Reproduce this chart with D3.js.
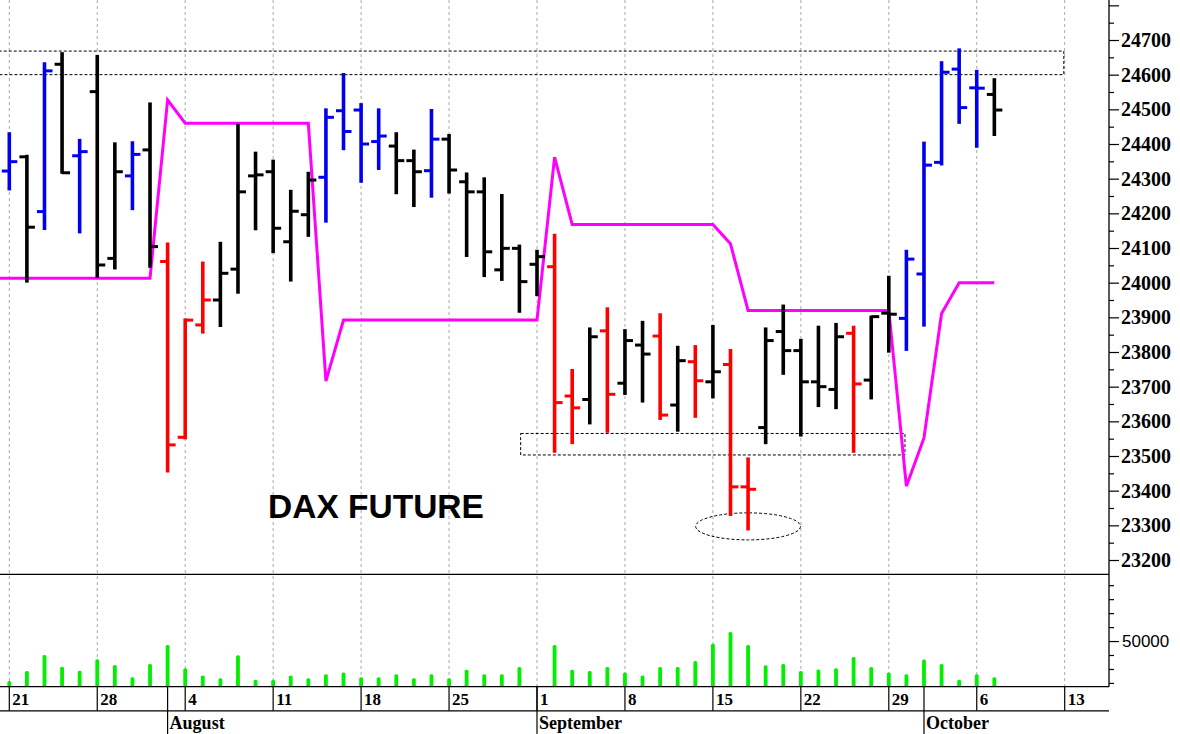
<!DOCTYPE html>
<html><head><meta charset="utf-8">
<script src="https://cdn.jsdelivr.net/npm/d3@7"></script>
<style>html,body{margin:0;padding:0;background:#fff;overflow:hidden}svg{display:block}</style>
</head><body>
<svg id="c" width="1180" height="734"></svg>
<script>
// ---- DATA ----
const dates = ["2025-07-21","2025-07-22","2025-07-23","2025-07-24","2025-07-25",
"2025-07-28","2025-07-29","2025-07-30","2025-07-31","2025-08-01",
"2025-08-04","2025-08-05","2025-08-06","2025-08-07","2025-08-08",
"2025-08-11","2025-08-12","2025-08-13","2025-08-14","2025-08-15",
"2025-08-18","2025-08-19","2025-08-20","2025-08-21","2025-08-22",
"2025-08-25","2025-08-26","2025-08-27","2025-08-28","2025-08-29",
"2025-09-01","2025-09-02","2025-09-03","2025-09-04","2025-09-05",
"2025-09-08","2025-09-09","2025-09-10","2025-09-11","2025-09-12",
"2025-09-15","2025-09-16","2025-09-17","2025-09-18","2025-09-19",
"2025-09-22","2025-09-23","2025-09-24","2025-09-25","2025-09-26",
"2025-09-29","2025-09-30","2025-10-01","2025-10-02","2025-10-03",
"2025-10-06","2025-10-07"];
const open  = [24322,24363,24205,24630,24366, 24551,24070,24308,24383,24061,
23554,23878,23950,24039,24308, 24320,24118,24196,24304,24496,
24498,24407,24394,24352,24323, 24414,24291,24262,24037,24099,
24053,24046,23673,23663,23861, 23710,23820,23846,23647,23772,
23714,23764,23411,23582,23859, 23804,23714,23692,23854,23719,
23912,23897,24025,24347,24616, 24562,24543];
const high  = [24431,24366,24633,24662,24412, 24654,24402,24405,24517,24113,
23894,24058,24115,24455,24375, 24352,24265,24317,24500,24602,
24515,24500,24431,24381,24498, 24426,24315,24301,24253,24107,
24092,24138,23748,23868,23926, 23863,23887,23909,23815,23817,
23875,23806,23493,23868,23934, 23835,23873,23881,23873,23902,
24017,24092,24404,24636,24673, 24611,24587];
const low   = [24269,24003,24155,24317,24145, 24017,24041,24212,24046,23455,
23551,23856,23875,23971,24154, 24088,24006,24135,24176,24385,
24291,24328,24258,24221,24248, 24260,24077,24019,24008,23916,
23964,23512,23537,23594,23570, 23679,23657,23607,23573,23613,
23669,23330,23288,23537,23737, 23559,23644,23638,23512,23666,
23801,23806,23876,24341,24461, 24392,24426];
const close = [24349,24160,24611,24317,24378, 24051,24320,24370,24104,23532,
23892,23950,24027,24262,24311, 24157,24206,24296,24477,24436,
24400,24423,24352,24320,24414, 24325,24262,24089,24099,24003,
24075,23654,23639,23844,23678, 23833,23794,23618,23775,23717,
23743,23411,23404,23833,23804, 23714,23700,23844,23708,23902,
23909,24068,24339,24607,24505, 24561,24498];
const barColor = ["b","k","b","k","b", "k","k","b","k","r",
"r","r","k","k","k", "k","k","k","b","b",
"b","b","k","k","b", "k","k","k","k","k",
"k","r","r","k","r", "k","k","r","k","r",
"k","r","r","k","k", "k","k","k","r","k",
"k","b","b","b","b", "b","k"];
const volume = [21300,28500,40000,31600,28700, 36900,32800,24100,33500,47100,
30600,25300,23400,39800,22200, 22200,25300,23400,26300,27500,
24100,24100,26300,23400,26300, 23400,29400,26300,26300,31400,
18000,47100,29400,28500,31400, 27500,25300,31400,31400,35700,
48100,56500,47100,32600,33500, 28500,29700,30600,38600,31400,
27500,26300,36700,33500,22200, 26300,24100];
const pivot = [24013,24013,24013,24013,24013, 24013,24013,24013,24013,24527,
24460,24460,24460,24460,24460, 24460,24460,24460,23716,23892,
23892,23892,23892,23892,23892, 23892,23892,23892,23892,23892,
23892,24362,24168,24168,24168, 24168,24168,24168,24168,24168,
24168,24112,23920,23920,23920, 23920,23920,23920,23920,23920,
23920,23413,23552,23911,24000, 24000,24000];
const weekLabels = ["21","28","4","11","18","25","1","8","15","22","29","6","13"];
const weekIndex  = [0,5,10,15,20,25,30,35,40,45,50,55,60];
const monthLabels = ["August","September","October"];
const monthIndex  = [9,30,52];
const priceTicks = d3.range(23200, 24801, 50);
const priceLabels = d3.range(23200, 24701, 100);
const volTicks = d3.range(20000, 90001, 10000);
const volLabels = [50000];
// annotation zones: [low, high, startIndex, endIndex]
const zoneLow   = [24600, 23503];
const zoneHigh  = [24668, 23565];
const zoneStart = [-0.6, 29.07];
const zoneEnd   = [59.95, 50.92];
// ellipse: center index, center price, half-width (days), half-height (points)
const ellipseC = [42, 23297, 2.98, 39];
const title = "DAX FUTURE";

// ---- SCALES ----
const W = 1180, H = 734;
const axisX = 1109;
const x  = d3.scaleLinear().domain([0, 60]).range([9.3, 1064.7]);
const yP = d3.scaleLinear().domain([23200, 24700]).range([560, 40]);
const yV = d3.scaleLinear().domain([17300, 97800]).range([686.7, 574.3]);
const colors = {b:"#0000ee", k:"#000000", r:"#ff0000"};

const svg = d3.select("#c");
const defs = svg.append("defs");
defs.append("clipPath").attr("id","pclip").append("rect").attr("x",0).attr("y",0).attr("width",axisX).attr("height",574);
defs.append("clipPath").attr("id","vclip").append("rect").attr("x",0).attr("y",574).attr("width",axisX).attr("height",112.7);

// grid lines
svg.append("g").selectAll("line").data(weekIndex).join("line")
  .attr("x1", d=>x(d)).attr("x2", d=>x(d)).attr("y1",0).attr("y2",686.5)
  .attr("stroke","#a8a8a8").attr("stroke-width",1).attr("stroke-dasharray","3,3");

// price panel
const pg = svg.append("g").attr("clip-path","url(#pclip)");

// zones
pg.append("g").selectAll("rect").data(zoneLow).join("rect")
  .attr("x",(d,i)=>x(zoneStart[i])).attr("width",(d,i)=>x(zoneEnd[i])-x(zoneStart[i]))
  .attr("y",(d,i)=>yP(zoneHigh[i])).attr("height",(d,i)=>yP(zoneLow[i])-yP(zoneHigh[i]))
  .attr("fill","none").attr("stroke","#000").attr("stroke-width",1).attr("stroke-dasharray","3,2");

// ellipse
pg.append("ellipse")
  .attr("cx", x(ellipseC[0])).attr("cy", yP(ellipseC[1]))
  .attr("rx", x(ellipseC[2]) - x(0)).attr("ry", yP(23200) - yP(23200 + ellipseC[3]))
  .attr("fill","none").attr("stroke","#000").attr("stroke-width",1).attr("stroke-dasharray","3,2");

// pivot line
const pts = pivot.map((v,i)=>[x(i), yP(v)]);
pts.unshift([0, yP(pivot[0])]);
pg.append("path").attr("d", d3.line()(pts))
  .attr("fill","none").attr("stroke","#ff00ff").attr("stroke-width",3).attr("stroke-linejoin","miter");

// OHLC bars
const bars = pg.append("g").selectAll("g").data(dates).join("g")
  .attr("stroke",(d,i)=>colors[barColor[i]]);
bars.append("line").attr("x1",(d,i)=>x(i)).attr("x2",(d,i)=>x(i))
  .attr("y1",(d,i)=>yP(high[i])-1).attr("y2",(d,i)=>yP(low[i])+1).attr("stroke-width",3.6);
bars.append("line").attr("x1",(d,i)=>x(i)-7.5).attr("x2",(d,i)=>x(i))
  .attr("y1",(d,i)=>yP(open[i])).attr("y2",(d,i)=>yP(open[i])).attr("stroke-width",3);
bars.append("line").attr("x1",(d,i)=>x(i)).attr("x2",(d,i)=>x(i)+8)
  .attr("y1",(d,i)=>yP(close[i])).attr("y2",(d,i)=>yP(close[i])).attr("stroke-width",3);

// title
svg.append("text").attr("x",268).attr("y",518).text(title)
  .attr("font-family","'Liberation Sans', Arial, sans-serif").attr("font-weight","bold")
  .attr("font-size",33.5).attr("fill","#000");

// volume panel
const vg = svg.append("g").attr("clip-path","url(#vclip)");
vg.selectAll("rect").data(volume).join("rect")
  .attr("x",(d,i)=>x(i)-1.9).attr("width",3.8)
  .attr("y",d=>yV(d)).attr("height",d=>yV.range()[0]-yV(d))
  .attr("rx",1.5).attr("fill","#00f000");

// frame lines
svg.append("line").attr("x1",0).attr("x2",axisX).attr("y1",574.3).attr("y2",574.3).attr("stroke","#000").attr("stroke-width",1.2);
svg.append("line").attr("x1",0).attr("x2",axisX).attr("y1",686.7).attr("y2",686.7).attr("stroke","#000").attr("stroke-width",1.2);
svg.append("line").attr("x1",0).attr("x2",axisX).attr("y1",710.8).attr("y2",710.8).attr("stroke","#000").attr("stroke-width",1.2);

// right price axis
const serif = "'Liberation Serif','Times New Roman',serif";
const pAxisMinor = d3.axisRight(yP).tickValues(priceTicks.filter(v=>v%100!==0)).tickSize(5).tickFormat("");
const pAxisMajor = d3.axisRight(yP).tickValues(priceTicks.filter(v=>v%100===0)).tickSize(10)
  .tickFormat(v => priceLabels.includes(v) ? String(v) : "");
const gpm = svg.append("g").attr("transform",`translate(${axisX},0)`).call(pAxisMinor);
const gpM = svg.append("g").attr("transform",`translate(${axisX},0)`).call(pAxisMajor);
[gpm,gpM].forEach(g=>{ g.select(".domain").remove(); g.selectAll("line").attr("stroke","#000").attr("stroke-width",1.2); });
gpM.selectAll("text").attr("x",12).attr("font-family",serif).attr("font-weight","bold").attr("font-size",20).attr("fill","#000");

// right volume axis
const vAxisMinor = d3.axisRight(yV).tickValues(volTicks.filter(v=>!volLabels.includes(v))).tickSize(5).tickFormat("");
const vAxisMajor = d3.axisRight(yV).tickValues(volLabels).tickSize(10).tickFormat(d3.format("d"));
const gvm = svg.append("g").attr("transform",`translate(${axisX},0)`).call(vAxisMinor);
const gvM = svg.append("g").attr("transform",`translate(${axisX},0)`).call(vAxisMajor);
[gvm,gvM].forEach(g=>{ g.select(".domain").remove(); g.selectAll("line").attr("stroke","#000").attr("stroke-width",1.2); });
gvM.selectAll("text").attr("x",13).attr("font-family","'Liberation Sans',Arial,sans-serif").attr("font-size",17).attr("fill","#000");

svg.append("line").attr("x1",axisX).attr("x2",axisX).attr("y1",0).attr("y2",686.7).attr("stroke","#000").attr("stroke-width",1.3);

// date axis
const dg = svg.append("g");
dg.selectAll("line.w").data(weekIndex).join("line").attr("class","w")
  .attr("x1",d=>x(d)).attr("x2",d=>x(d)).attr("y1",686.7).attr("y2",710.8).attr("stroke","#000").attr("stroke-width",1.2);
dg.selectAll("text.w").data(weekLabels).join("text").attr("class","w")
  .attr("x",(d,i)=>x(weekIndex[i])+3).attr("y",704.5).text(d=>d)
  .attr("font-family",serif).attr("font-weight","bold").attr("font-size",17).attr("fill","#000");
dg.selectAll("line.m").data(monthIndex).join("line").attr("class","m")
  .attr("x1",d=>x(d)).attr("x2",d=>x(d)).attr("y1",686.7).attr("y2",734).attr("stroke","#000").attr("stroke-width",1.2);
dg.selectAll("text.m").data(monthLabels).join("text").attr("class","m")
  .attr("x",(d,i)=>x(monthIndex[i])+2).attr("y",729).text(d=>d)
  .attr("font-family",serif).attr("font-weight","bold").attr("font-size",18).attr("fill","#000");
</script>
</body></html>
